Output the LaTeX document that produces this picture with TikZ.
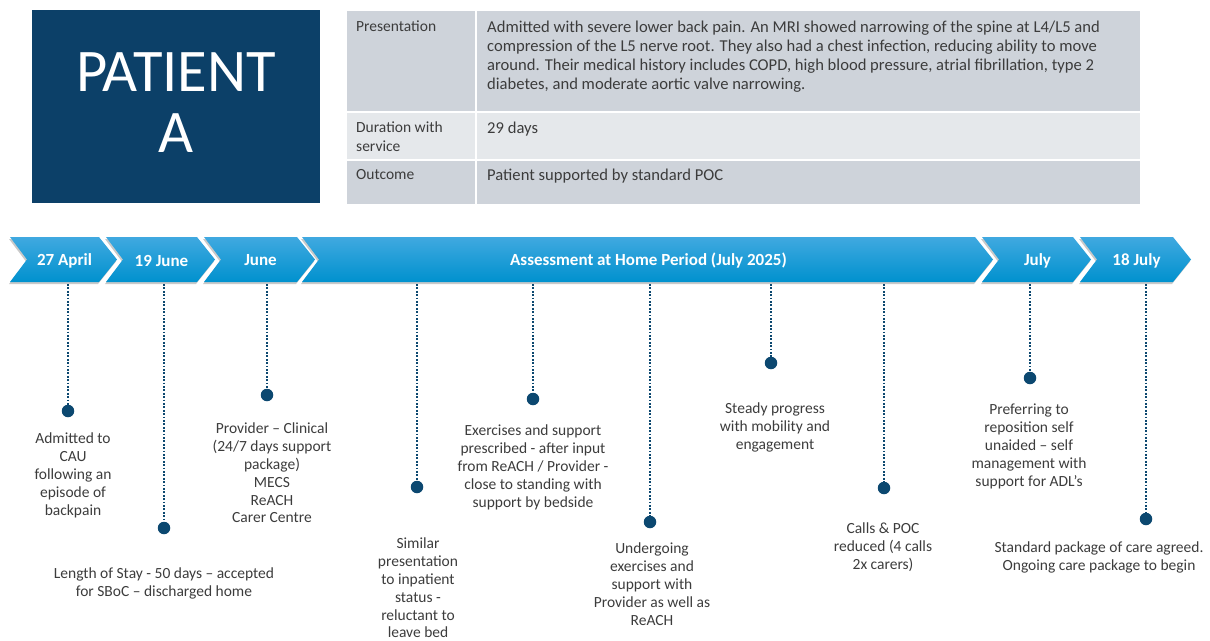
\documentclass[tikz,border=0pt]{standalone}
\usepackage{fontspec}
\setmainfont{Carlito}
\usetikzlibrary{shadows}

\definecolor{navy}{HTML}{0C4068}
\definecolor{dotblue}{HTML}{0C4870}
\definecolor{chevtop}{HTML}{40A9E0}
\definecolor{chevbot}{HTML}{0091CE}
\definecolor{rowdark}{HTML}{CED3DA}
\definecolor{rowlight}{HTML}{E5E8EB}
\definecolor{bodytext}{HTML}{3C3C3C}

\tikzset{
  chevron/.style={top color=chevtop, bottom color=chevbot,
    drop shadow={shadow xshift=-1pt, shadow yshift=-2pt, opacity=0.3, fill=black!70}},
  chevlabel/.style={text=white, inner sep=0pt, font=\fontsize{17}{18}\selectfont\bfseries},
  event/.style={circle, fill=dotblue, inner sep=0pt, minimum size=12.5pt},
  stem/.style={dotblue, line width=2pt, dash pattern=on 1.8pt off 1.6pt},
  note/.style={align=center, text=bodytext, inner sep=0pt, anchor=north,
    font=\fontsize{15.5}{17.8}\selectfont},
  celltext/.style={align=left, text=bodytext, inner sep=0pt, anchor=north west,
    font=\fontsize{15.5}{19}\selectfont},
  cellbody/.style={celltext, font=\fontsize{16.6}{19}\selectfont}
}

\begin{document}
\begin{tikzpicture}[x=1pt, y=-1pt]
    \useasboundingbox (0,0) rectangle (1210,640);

    % 1. Patient box
    \node[fill=navy, inner sep=0pt, minimum width=288pt, minimum height=193pt,
          anchor=north west] (patient) at (32,10) {};
    \node[text=white, align=center, inner sep=0pt, font=\fontsize{60.5}{61}\selectfont]
          (patientname) at (176,102.5) {PATIENT\\A};

    % 2. Summary table
    \fill[rowdark] (347,11) rectangle (1140,111);
    \fill[rowlight] (347,113) rectangle (1140,159);
    \fill[rowdark] (347,161) rectangle (1140,204);
    \draw[white, line width=2pt] (476,11) -- (476,204);

    \node[celltext] (hpres) at (356,21) {Presentation};
    \node[cellbody] (tpres) at (487,20.5) {Admitted with severe lower back pain. An MRI showed narrowing of the spine at L4/L5 and\\
        compression of the L5 nerve root. They also had a chest infection, reducing ability to move\\
        around. Their medical history includes COPD, high blood pressure, atrial fibrillation, type 2\\
        diabetes, and moderate aortic valve narrowing.};
    \node[celltext] (hdur) at (356,122) {Duration with\\service};
    \node[cellbody] (tdur) at (487,121.5) {29 days};
    \node[celltext] (hout) at (356,169) {Outcome};
    \node[cellbody] (tout) at (487,168.5) {Patient supported by standard POC};

    % 3. Chevrons along the top of the timeline
    \foreach \l/\r/\name/\txt in {10/117/c1/27 April, 106/215/c2/19 June, 204/315/c3/June,
        302/993/c4/Assessment at Home Period (July 2025), 982/1091/c5/July, 1080/1191/c6/18 July} {
        \path[chevron] (\l,237) -- ({\r-18},237) -- (\r,259.5) -- ({\r-18},282)
            -- (\l,282) -- ({\l+17},259.5) -- cycle;
        \node[chevlabel] (\name) at ({(\l+\r)/2+1},260.5) {\txt};
    }

    % 4. Dotted stems down to the events
    \foreach \n/\x/\y in {1/68/411, 2/164/528, 3/267/395, 4/417/487, 5/533/399,
        6/650/522, 7/771/363, 8/884/488, 9/1030/378, 10/1146/519} {
        \coordinate (s\n) at (\x,284);
        \draw[stem] (s\n) -- (\x,\y);
        \node[event] (d\n) at (\x,\y) {};
    }

    % 5. Event notes
    \node[note] (n1) at (73,433) {Admitted to\\CAU\\following an\\episode of\\backpain};
    \node[note] (n2) at (164,568) {Length of Stay - 50 days -- accepted\\for SBoC -- discharged home};
    \node[note] (n3) at (272,423) {Provider -- Clinical\\(24/7 days support\\package)\\MECS\\ReACH\\Carer Centre};
    \node[note] (n4) at (418,538) {Similar\\presentation\\to inpatient\\status -\\reluctant to\\leave bed};
    \node[note] (n5) at (533,425) {Exercises and support\\prescribed - after input\\from ReACH / Provider -\\close to standing with\\support by bedside};
    \node[note] (n6) at (652,543) {Undergoing\\exercises and\\support with\\Provider as well as\\ReACH};
    \node[note] (n7) at (775,403) {Steady progress\\with mobility and\\engagement};
    \node[note] (n8) at (883,523) {Calls \& POC\\reduced (4 calls\\2x carers)};
    \node[note] (n9) at (1029,404) {Preferring to\\reposition self\\unaided -- self\\management with\\support for ADL’s};
    \node[note] (n10) at (1099,542) {Standard package of care agreed.\\Ongoing care package to begin};

\end{tikzpicture}
\end{document}
